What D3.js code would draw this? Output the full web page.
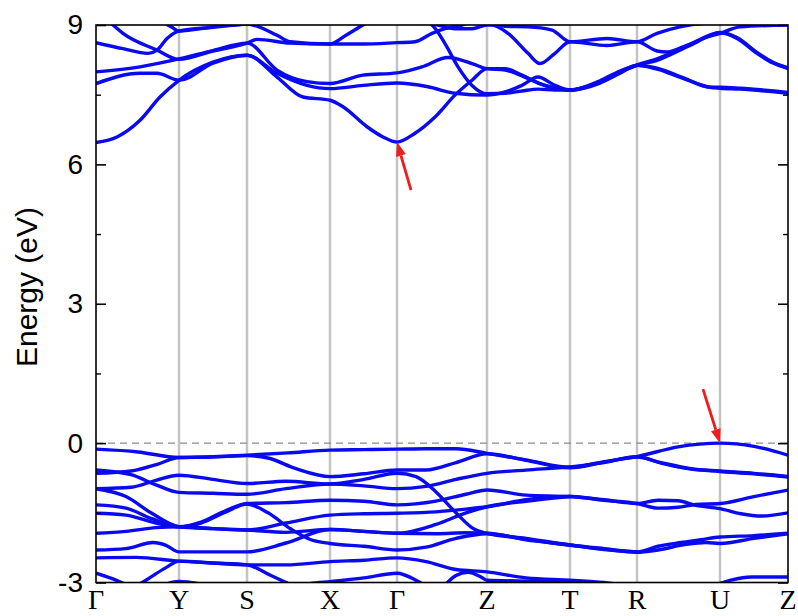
<!DOCTYPE html>
<html>
<head>
<meta charset="utf-8">
<script src="https://cdn.jsdelivr.net/npm/d3@7"></script>
<style>
  body { margin: 0; background: #fff; }
</style>
</head>
<body>
<svg width="798" height="616"></svg>
<script>
// high symmetry points along the path
var hsK = [0, 0.83, 1.51, 2.34, 3.01, 3.91, 4.74, 5.41, 6.24, 6.92]
var hsLabels = ['Γ', 'Y', 'S', 'X', 'Γ', 'Z', 'T', 'R', 'U', 'Z']
var yTicks = [-3, 0, 3, 6, 9]
var yMinor = [-1.5, 1.5, 4.5, 7.5]

// conduction bands [k, E]
var cb1 = [[0,6.47],[0.21,6.59],[0.44,6.95],[0.64,7.45],[0.83,7.81],[1.17,8.20],[1.51,8.35],[1.81,7.88],[2.07,7.45],[2.34,7.38],[2.47,7.24],[2.71,6.81],[2.87,6.59],[3.01,6.48],[3.19,6.67],[3.39,7.02],[3.59,7.49],[3.76,7.81],[3.91,8.06],[4.09,8.06],[4.26,7.92],[4.42,7.75],[4.59,7.64],[4.74,7.60],[5.04,7.77],[5.24,7.98],[5.41,8.13],[5.61,8.24],[5.94,8.56],[6.24,8.83],[6.41,8.71],[6.61,8.39],[6.77,8.18],[6.92,8.06]]
var cb2 = [[0,7.74],[0.44,7.96],[0.61,7.96],[0.83,7.81],[1.17,8.18],[1.51,8.35],[1.81,7.96],[2.11,7.70],[2.34,7.63],[2.67,7.70],[3.01,7.75],[3.32,7.67],[3.59,7.53],[3.91,7.49],[4.09,7.56],[4.26,7.70],[4.42,7.88],[4.59,7.70],[4.74,7.60],[5.04,7.75],[5.24,7.96],[5.41,8.13],[5.61,8.05],[5.87,7.85],[6.14,7.66],[6.24,7.64],[6.44,7.62],[6.92,7.53]]
var cb3 = [[0,7.99],[0.44,8.10],[0.83,8.27],[1.17,8.45],[1.51,8.61],[1.81,8.03],[2.11,7.78],[2.34,7.74],[2.67,7.92],[3.01,7.97],[3.26,8.10],[3.52,8.30],[3.76,8.17],[3.91,8.06],[4.09,8.03],[4.32,7.85],[4.49,7.70],[4.74,7.60],[5.04,7.80],[5.24,8.01],[5.41,8.14],[5.61,8.27],[5.94,8.58],[6.24,8.84],[6.41,8.73],[6.61,8.41],[6.77,8.20],[6.92,8.08]]
var cb4 = [[0,9.3],[0.17,9.0],[0.27,8.82],[0.61,8.46],[0.83,8.26],[1.17,8.44],[1.51,8.61],[1.61,8.69],[1.94,8.61],[2.34,8.59],[2.50,8.78],[2.67,9.0],[3.01,9.35],[3.19,9.15],[3.36,9.0],[3.49,8.6],[3.62,8.1],[3.76,7.70],[3.91,7.52],[4.09,7.53],[4.26,7.58],[4.42,7.62],[4.59,7.60],[4.74,7.60],[5.04,7.78],[5.24,7.99],[5.41,8.13],[5.61,8.07],[5.87,7.87],[6.14,7.66],[6.24,7.66],[6.44,7.64],[6.92,7.55]]
var cb5 = [[0,8.62],[0.27,8.49],[0.52,8.39],[0.61,8.46],[0.71,8.71],[0.83,8.87],[1.17,8.95],[1.51,9.02],[1.57,9.0],[1.81,8.78],[1.94,8.64],[2.34,8.59],[2.67,8.59],[3.01,8.62],[3.19,8.64],[3.36,8.82],[3.49,8.92],[3.66,9.0],[3.91,9.15],[4.09,8.97],[4.32,8.96],[4.56,8.89],[4.74,8.64],[5.11,8.71],[5.41,8.64],[5.61,8.82],[5.84,8.96],[6.24,9.05],[6.92,9.05]]
var cb6 = [[0,9.5],[0.41,9.35],[0.64,9.1],[0.76,8.95],[0.83,8.87],[1.17,8.96],[1.51,9.03],[1.9,9.3],[2.34,9.4],[3.01,9.3],[3.24,9.1],[3.42,9.0],[3.59,8.92],[3.76,8.92],[3.91,9.0],[3.96,9.0],[4.12,8.82],[4.32,8.39],[4.44,8.17],[4.59,8.39],[4.74,8.64],[5.11,8.56],[5.41,8.64],[5.61,8.44],[5.71,8.42],[5.87,8.53],[6.11,8.74],[6.24,8.82],[6.44,8.96],[6.92,9.0]]

// valence bands [k, E]
var vb1 = [[0,-0.13],[0.42,-0.19],[0.83,-0.31],[1.17,-0.29],[1.51,-0.26],[1.92,-0.21],[2.34,-0.15],[2.68,-0.14],[3.01,-0.13],[3.3,-0.12],[3.6,-0.12],[3.91,-0.22],[4.3,-0.36],[4.74,-0.52],[5.08,-0.40],[5.41,-0.29],[5.82,-0.08],[6.24,0.0],[6.58,-0.07],[6.92,-0.26]]
var vb2 = [[0,-0.65],[0.35,-0.60],[0.62,-0.45],[0.83,-0.31],[1.17,-0.30],[1.51,-0.27],[1.72,-0.32],[2.0,-0.55],[2.34,-0.72],[2.68,-0.66],[3.01,-0.58],[3.3,-0.58],[3.6,-0.42],[3.91,-0.23],[4.3,-0.37],[4.74,-0.53],[5.08,-0.41],[5.41,-0.30],[5.65,-0.42],[5.95,-0.55],[6.24,-0.60],[6.58,-0.65],[6.92,-0.72]]
var vb3 = [[0,-0.58],[0.35,-0.68],[0.6,-0.90],[0.83,-1.06],[1.17,-1.08],[1.51,-1.10],[1.9,-0.98],[2.34,-0.88],[2.68,-0.92],[3.01,-0.98],[3.3,-0.93],[3.6,-0.78],[3.91,-0.65],[4.3,-0.58],[4.74,-0.51],[5.08,-0.42],[5.41,-0.29],[5.65,-0.43],[5.95,-0.56],[6.24,-0.61],[6.58,-0.66],[6.92,-0.73]]
var vb4 = [[0,-0.98],[0.35,-0.95],[0.6,-0.80],[0.83,-0.69],[1.17,-0.78],[1.51,-0.87],[1.9,-0.82],[2.34,-0.88],[2.68,-0.78],[3.01,-0.65],[3.2,-0.72],[3.4,-1.05],[3.6,-1.50],[3.78,-1.85],[3.91,-1.94],[4.3,-2.05],[4.74,-2.19],[5.08,-2.27],[5.41,-2.34],[5.62,-2.22],[5.85,-2.14],[6.05,-2.08],[6.24,-2.02],[6.58,-1.99],[6.92,-1.94]]
var vb5 = [[0,-1.33],[0.3,-1.40],[0.55,-1.62],[0.83,-1.80],[1.05,-1.70],[1.3,-1.45],[1.51,-1.30],[1.9,-1.28],[2.34,-1.23],[2.68,-1.25],[3.01,-1.33],[3.4,-1.25],[3.7,-1.10],[3.91,-1.01],[4.3,-1.12],[4.74,-1.15],[5.08,-1.22],[5.41,-1.30],[5.62,-1.23],[5.82,-1.24],[6.0,-1.34],[6.24,-1.41],[6.45,-1.52],[6.65,-1.57],[6.92,-1.50]]
var vb6 = [[0,-1.51],[0.3,-1.55],[0.6,-1.72],[0.83,-1.80],[1.05,-1.72],[1.3,-1.48],[1.51,-1.31],[1.72,-1.50],[1.95,-1.85],[2.15,-2.08],[2.34,-2.16],[2.68,-2.22],[3.01,-2.30],[3.3,-2.24],[3.6,-2.05],[3.91,-1.95],[4.3,-2.07],[4.74,-2.20],[5.08,-2.28],[5.41,-2.35],[5.62,-2.30],[5.9,-2.18],[6.1,-2.14],[6.24,-2.16],[6.58,-2.05],[6.92,-1.95]]
var vb7 = [[0,-1.94],[0.3,-1.90],[0.6,-1.82],[0.83,-1.80],[1.17,-1.84],[1.51,-1.87],[1.9,-1.72],[2.34,-1.55],[2.68,-1.52],[3.01,-1.51],[3.4,-1.48],[3.7,-1.42],[3.91,-1.37],[4.3,-1.22],[4.74,-1.15],[5.08,-1.23],[5.41,-1.30],[5.62,-1.40],[5.82,-1.38],[6.0,-1.32],[6.24,-1.30],[6.58,-1.15],[6.92,-1.01]]
var vb8 = [[0,-0.98],[0.3,-1.15],[0.55,-1.50],[0.83,-1.80],[1.17,-1.84],[1.51,-1.87],[1.9,-1.92],[2.34,-1.86],[2.68,-1.90],[3.01,-1.94],[3.4,-1.95],[3.7,-1.93],[3.91,-1.94],[4.3,-2.08],[4.74,-2.19],[5.08,-2.29],[5.41,-2.34]]
var vb9 = [[0,-2.30],[0.3,-2.27],[0.57,-2.14],[0.7,-2.20],[0.83,-2.34],[1.17,-2.34],[1.51,-2.34],[1.9,-2.15],[2.34,-1.86],[2.68,-1.90],[3.01,-1.94],[3.4,-1.75],[3.7,-1.50],[3.91,-1.37],[4.3,-1.25],[4.74,-1.15]]
var vb10 = [[0,-2.47],[0.4,-2.46],[0.83,-2.54],[1.17,-2.58],[1.51,-2.62],[1.9,-2.62],[2.34,-2.55],[2.68,-2.52],[3.01,-2.47],[3.3,-2.55],[3.6,-2.72],[3.91,-2.77],[4.3,-2.90],[4.74,-2.95],[5.08,-3.0],[5.41,-3.1]]
var vb11 = [[0,-2.80],[0.2,-2.95],[0.4,-3.15]]
var vb12 = [[0.3,-3.2],[0.5,-2.95],[0.7,-2.68],[0.83,-2.54],[1.17,-2.58],[1.51,-2.62],[1.75,-2.85],[2.0,-3.1],[2.2,-3.3]]
var vb13 = [[0.55,-3.2],[0.83,-2.98],[1.1,-3.05],[1.51,-3.2],[1.9,-3.15],[2.15,-3.02],[2.34,-2.98],[2.68,-2.90],[3.01,-2.80],[3.2,-2.95],[3.35,-3.15]]
var vb14 = [[3.45,-3.15],[3.6,-2.85],[3.72,-2.78],[3.85,-2.88],[3.91,-2.95],[4.3,-2.97],[4.74,-2.98],[5.2,-3.05]]
var vb15 = [[6.2,-3.05],[6.35,-2.95],[6.55,-2.88],[6.92,-2.88]]

var bands = [cb1, cb2, cb3, cb4, cb5, cb6,
    vb1, vb2, vb3, vb4, vb5, vb6, vb7, vb8, vb9, vb10, vb11, vb12, vb13, vb14, vb15]

// gap edges marked with arrows
var arrowTips = [[3.01, 6.48], [6.24, 0.0]]

var svg = d3.select('svg')
var plotLeft = 96, plotRight = 788, plotTop = 25, plotBottom = 582.5

var x = d3.scaleLinear().domain([0, 6.92]).range([plotLeft, plotRight])
var y = d3.scaleLinear().domain([-3, 9]).range([plotBottom, plotTop])

svg.append('clipPath')
    .attr('id', 'plot')
    .append('rect')
    .attr('x', plotLeft)
    .attr('y', plotTop)
    .attr('width', plotRight - plotLeft)
    .attr('height', plotBottom - plotTop)

// vertical lines at high symmetry points
svg.selectAll('.hs')
    .data(hsK.slice(1, -1))
    .enter()
    .append('line')
    .attr('x1', d => x(d))
    .attr('x2', d => x(d))
    .attr('y1', plotTop)
    .attr('y2', plotBottom)
    .attr('stroke', '#c4c4c4')
    .attr('stroke-width', 2.5)

// fermi level
svg.append('line')
    .attr('x1', plotLeft)
    .attr('x2', plotRight)
    .attr('y1', y(0))
    .attr('y2', y(0))
    .attr('stroke', '#8c8c8c')
    .attr('stroke-width', 1.3)
    .attr('stroke-dasharray', '7,5')

var line = d3.line()
    .x(d => x(d[0]))
    .y(d => y(d[1]))
    .curve(d3.curveMonotoneX)

svg.append('g')
    .attr('clip-path', 'url(#plot)')
    .selectAll('path')
    .data(bands)
    .enter()
    .append('path')
    .attr('d', line)
    .attr('fill', 'none')
    .attr('stroke', '#0a0af0')
    .attr('stroke-width', 3.4)
    .attr('stroke-linejoin', 'round')

// frame
svg.append('rect')
    .attr('x', plotLeft)
    .attr('y', plotTop)
    .attr('width', plotRight - plotLeft)
    .attr('height', plotBottom - plotTop)
    .attr('fill', 'none')
    .attr('stroke', '#000')
    .attr('stroke-width', 1.6)

// y axis, ticks inward
var yAxis = svg.append('g')
    .attr('transform', 'translate(' + plotLeft + ',0)')
    .call(d3.axisLeft(y).tickValues(yTicks).tickSize(-10).tickPadding(13).tickFormat(d => String(d)))
yAxis.select('.domain').remove()
yAxis.selectAll('line').attr('stroke-width', 1.6)
yAxis.selectAll('text')
    .style('font-family', '"Liberation Sans", Arial, sans-serif')
    .style('font-size', '28px')
    .attr('fill', '#000')

var yMinorAxis = svg.append('g')
    .attr('transform', 'translate(' + plotLeft + ',0)')
    .call(d3.axisLeft(y).tickValues(yMinor).tickSize(-5).tickFormat(''))
yMinorAxis.select('.domain').remove()
yMinorAxis.selectAll('line').attr('stroke-width', 1.4)

var yRight = svg.append('g')
    .attr('transform', 'translate(' + plotRight + ',0)')
    .call(d3.axisRight(y).tickValues(yTicks).tickSize(-10).tickFormat(''))
yRight.select('.domain').remove()
yRight.selectAll('line').attr('stroke-width', 1.6)

var yRightMinor = svg.append('g')
    .attr('transform', 'translate(' + plotRight + ',0)')
    .call(d3.axisRight(y).tickValues(yMinor).tickSize(-5).tickFormat(''))
yRightMinor.select('.domain').remove()
yRightMinor.selectAll('line').attr('stroke-width', 1.4)

// k point labels
svg.selectAll('.klabel')
    .data(hsK)
    .enter()
    .append('text')
    .attr('x', d => x(d))
    .attr('y', 609)
    .attr('text-anchor', 'middle')
    .style('font-family', '"Liberation Serif", "Times New Roman", serif')
    .style('font-size', '28px')
    .text((d, i) => hsLabels[i])

svg.append('text')
    .attr('transform', 'translate(37,287) rotate(-90)')
    .attr('text-anchor', 'middle')
    .style('font-family', '"Liberation Sans", Arial, sans-serif')
    .style('font-size', '30px')
    .text('Energy (eV)')

// red arrows
var arrowTails = [[14, 48], [-17, -54]]
arrowTips.forEach(function (d, i) {
    var tx = x(d[0]), ty = y(d[1])
    var dx = arrowTails[i][0], dy = arrowTails[i][1]
    var len = Math.sqrt(dx * dx + dy * dy)
    var ux = dx / len, uy = dy / len
    var head = 14, half = 5
    var bx = tx + ux * head, by = ty + uy * head
    svg.append('line')
        .attr('x1', tx + dx)
        .attr('y1', ty + dy)
        .attr('x2', bx)
        .attr('y2', by)
        .attr('stroke', '#ee1c1c')
        .attr('stroke-width', 2.8)
    svg.append('polygon')
        .attr('points', [
            [tx, ty],
            [bx - uy * half, by + ux * half],
            [bx + uy * half, by - ux * half]
        ].map(p => p.join(',')).join(' '))
        .attr('fill', '#ee1c1c')
})
</script>
</body>
</html>
